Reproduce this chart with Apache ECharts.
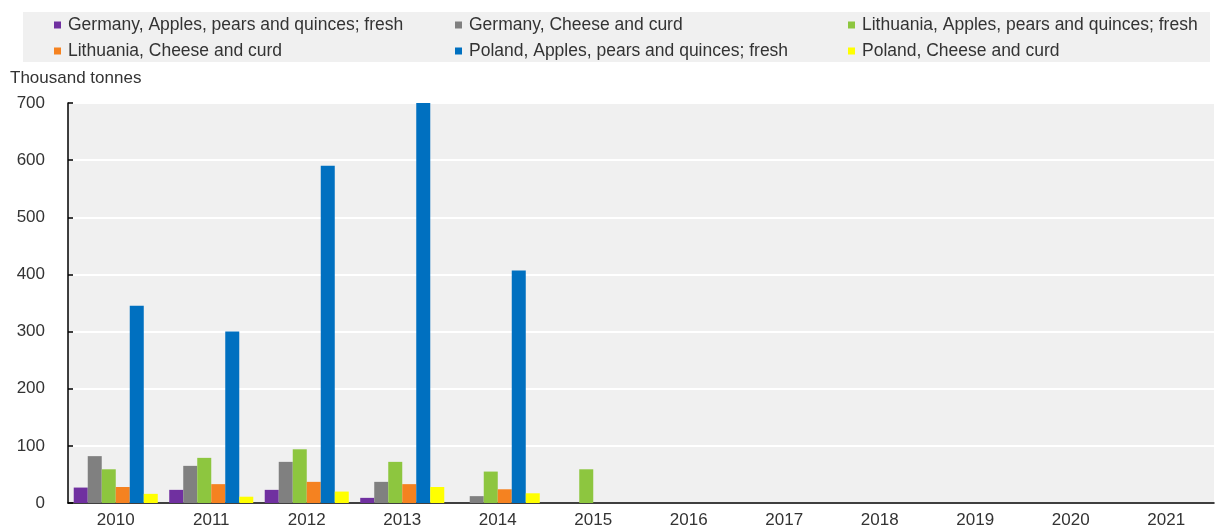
<!DOCTYPE html>
<html>
<head>
<meta charset="utf-8">
<script src="https://cdn.jsdelivr.net/npm/echarts@6/dist/echarts.min.js"></script>
<style>html,body{margin:0;padding:0;background:#fff}#c{width:1217px;height:531px}</style>
</head>
<body>
<div id="c"></div>
<script>
const years = ['2010','2011','2012','2013','2014','2015','2016','2017','2018','2019','2020','2021'];
const seriesNames = [
  'Germany, Apples, pears and quinces; fresh',
  'Germany, Cheese and curd',
  'Lithuania, Apples, pears and quinces; fresh',
  'Lithuania, Cheese and curd',
  'Poland, Apples, pears and quinces; fresh',
  'Poland, Cheese and curd'
];
const germanyApples   = [27, 23, 23, 9, null, null, null, null, null, null, null, null];
const germanyCheese   = [82, 65, 72, 37, 12, null, null, null, null, null, null, null];
const lithuaniaApples = [59, 79, 94, 72, 55, 59, null, null, null, null, null, null];
const lithuaniaCheese = [28, 33, 37, 33, 24, null, null, null, null, null, null, null];
const polandApples    = [345, 300, 590, 700, 407, null, null, null, null, null, null, null];
const polandCheese    = [16, 11, 20, 28, 17, null, null, null, null, null, null, null];
const yTicks = [0, 100, 200, 300, 400, 500, 600, 700];
const unitLabel = 'Thousand tonnes';

const colors = ['#7030a0', '#808080', '#8dc63f', '#f58220', '#0070c0', '#ffff00'];
const allData = [germanyApples, germanyCheese, lithuaniaApples, lithuaniaCheese, polandApples, polandCheese];
const FONT = 'Liberation Sans, Arial, sans-serif';

const chart = echarts.init(document.getElementById('c'));
const legendBase = {
  orient: 'vertical', top: 11, itemWidth: 7, itemHeight: 7, icon: 'rect', itemGap: 8,
  textStyle: { fontFamily: FONT, fontSize: 17.5, color: '#333', lineHeight: 18, padding: [0,0,0,2] },
  selectedMode: false
};
chart.setOption({
  animation: false,
  color: colors,
  graphic: [
    { type: 'rect', z: -10, shape: { x: 23, y: 12, width: 1187, height: 50 }, style: { fill: '#f0f0f0' } },
    { type: 'text', style: { x: 10, y: 78, text: unitLabel, fontFamily: FONT, fontSize: 17, fill: '#333', verticalAlign: 'middle' } }
  ],
  legend: [
    Object.assign({}, legendBase, { left: 49, data: [seriesNames[0], seriesNames[3]] }),
    Object.assign({}, legendBase, { left: 450, data: [seriesNames[1], seriesNames[4]] }),
    Object.assign({}, legendBase, { left: 843, data: [seriesNames[2], seriesNames[5]] })
  ],
  grid: { left: 68, right: 3, top: 103, bottom: 28, show: true, backgroundColor: '#f0f0f0', borderWidth: 0 },
  xAxis: {
    type: 'category', data: years,
    axisLine: { lineStyle: { color: '#000', width: 1.5 } },
    axisTick: { inside: true, length: 5, lineStyle: { color: '#000', width: 1.5 } },
    axisLabel: { fontFamily: FONT, fontSize: 17, color: '#333', margin: 9 }
  },
  yAxis: {
    type: 'value', min: yTicks[0], max: yTicks[yTicks.length - 1], interval: 100,
    axisLine: { show: true, lineStyle: { color: '#000', width: 1.5 } },
    axisTick: { show: true, inside: true, length: 5, lineStyle: { color: '#000', width: 1.5 } },
    axisLabel: { fontFamily: FONT, fontSize: 17, color: '#333', margin: 23 },
    splitLine: { lineStyle: { color: '#ffffff', width: 2 } }
  },
  series: seriesNames.map((n, i) => ({
    name: n, type: 'bar', data: allData[i], barGap: '0%', barCategoryGap: '12%',
    itemStyle: { color: colors[i] }
  }))
});
</script>
</body>
</html>
